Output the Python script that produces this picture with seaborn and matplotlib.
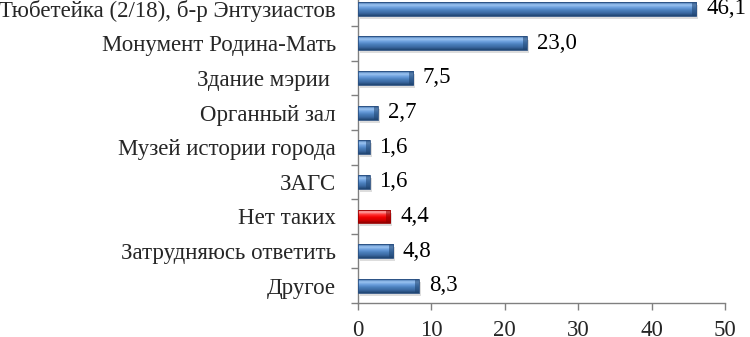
import matplotlib
matplotlib.use("Agg")
import matplotlib.pyplot as plt
import numpy as np
import pandas as pd
import seaborn as sns
from matplotlib.colors import LinearSegmentedColormap

categories = ["Тюбетейка (2/18), б-р Энтузиастов", "Монумент Родина-Мать", "Здание мэрии ",
              "Органный зал", "Музей истории города", "ЗАГС", "Нет таких",
              "Затрудняюсь ответить", "Другое"]
values = [46.1, 23.0, 7.5, 2.7, 1.6, 1.6, 4.4, 4.8, 8.3]
highlight = "Нет таких"
x_ticks = [0, 10, 20, 30, 40, 50]

sns.set_theme(style="white")
plt.rcParams['font.family'] = ['Liberation Serif', 'DejaVu Serif']
FS = 16.5

W, H = 750, 337
fig = plt.figure(figsize=(W / 100, H / 100), dpi=100)
left, right = 358, 725
bottom_px, top_px = 303, -8.6
ax = fig.add_axes([left / W, (H - bottom_px) / H, (right - left) / W, (bottom_px - top_px) / H])

df = pd.DataFrame({"cat": categories, "val": values})
blue = "#4A7EBB"
red = "#E8161B"
palette = {c: (red if c == highlight else blue) for c in categories}
sns.barplot(data=df, y="cat", x="val", hue="cat", palette=palette, legend=False,
            orient="h", width=0.4, ax=ax, saturation=1, edgecolor="none")

cmap_blue = LinearSegmentedColormap.from_list("b", ["#3A6AA5", "#9CC4F2", "#6A9EDC", "#4A7EBB", "#3A68A0", "#1F4470"])
cmap_red = LinearSegmentedColormap.from_list("r", ["#C00000", "#FFA8A8", "#FF3030", "#F00000", "#D00000", "#900000"])
grad = np.linspace(0, 1, 64).reshape(-1, 1)
for patch, c in zip(ax.patches, categories):
    x0, y0 = patch.get_x(), patch.get_y()
    w, h = patch.get_width(), patch.get_height()
    cm = cmap_red if c == highlight else cmap_blue
    ax.add_patch(plt.Rectangle((x0 + 0.25, y0 + 0.09), w, h, color="#BDBDBD", alpha=0.5, zorder=1, lw=0))
    im = ax.imshow(grad, extent=[x0, x0 + w, y0 + h, y0], aspect="auto", cmap=cm, zorder=3)
    im.set_clip_path(patch)
    cap = min(0.55, w * 0.3)
    ax.add_patch(plt.Rectangle((x0 + w - cap, y0), cap, h,
                               color=("#8A0000" if c == highlight else "#1F4470"), alpha=0.55, zorder=4, lw=0))
    patch.set_edgecolor("#2A4F80" if c != highlight else "#9A0000")
    patch.set_linewidth(0.6)
    patch.set_zorder(5)
    patch.set_facecolor("none")

for i, v in enumerate(values):
    ax.annotate(f"{v:.1f}".replace(".", ","), xy=(v, i), xytext=(7, 0), textcoords="offset points",
                va="center", ha="left", fontsize=FS, color="black")

ax.set_xlim(0, 50)
ax.set_ylim(len(categories) - 0.5, -0.5)
ax.set_xticks(x_ticks)
ax.set_xticklabels([str(t) for t in x_ticks], fontsize=FS)
ax.set_yticks(range(len(categories)))
ax.set_yticklabels(categories, fontsize=FS)
ax.set_yticks(np.arange(-0.5, len(categories), 1.0), minor=True)
ax.tick_params(axis="y", which="major", length=0, pad=16)
ax.tick_params(axis="y", which="minor", length=5, color="#808080", width=1, direction="out", left=True)
ax.tick_params(axis="x", length=5, color="#808080", width=1, direction="out", bottom=True, pad=7)
ax.set_xlabel("")
ax.set_ylabel("")
for s in ["top", "right"]:
    ax.spines[s].set_visible(False)
for s in ["left", "bottom"]:
    ax.spines[s].set_color("#808080")
    ax.spines[s].set_linewidth(1)

fig.savefig("out.png", dpi=100)
